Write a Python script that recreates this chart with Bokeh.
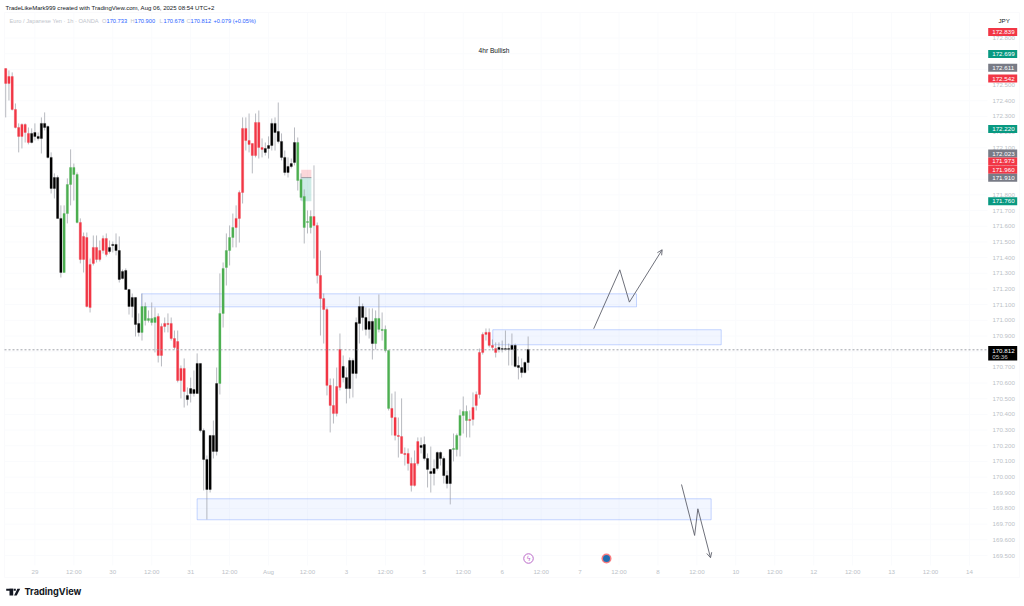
from bokeh.plotting import figure
from bokeh.embed import file_html
from bokeh.resources import INLINE
from bokeh.core.properties import value
from bokeh.models import (BoxAnnotation, Label, Arrow, OpenHead, FixedTicker, NumeralTickFormatter,
                          Range1d, PolyAnnotation, ColumnDataSource, LinearAxis)

# ---- candles (EUR/JPY, 1h): wick high / low, body top / bottom, session colour
highs = [172.606,172.594,172.581,172.383,172.256,172.256,172.256,172.230,172.224,172.256,
172.198,172.294,172.326,172.243,172.071,171.937,171.924,171.733,171.733,171.905,
172.090,172.000,171.943,171.650,171.560,171.560,171.394,171.541,171.541,171.509,
171.541,171.554,171.509,171.503,171.554,171.535,171.324,171.331,171.197,171.171,
171.146,171.044,171.171,171.114,171.063,171.114,171.082,171.044,170.980,171.018,
171.044,171.018,170.935,170.935,170.712,170.757,170.572,170.635,170.680,170.789,
170.725,170.310,170.138,170.266,170.361,170.699,171.299,171.369,171.554,171.605,
171.681,171.733,171.828,172.294,172.294,172.319,172.128,172.319,172.338,172.160,
172.134,172.173,172.287,172.294,172.389,172.192,172.083,172.039,172.032,172.230,
172.166,171.937,171.835,171.701,171.701,171.988,171.624,171.445,171.171,171.082,
170.629,170.629,170.699,170.916,170.776,170.699,170.763,170.757,171.018,171.152,
171.107,171.082,171.076,171.076,171.063,171.165,171.050,170.967,170.808,170.533,
170.546,170.380,170.502,170.189,170.183,170.125,170.170,170.253,170.253,170.259,
170.151,170.195,170.113,170.164,170.164,170.132,170.042,170.176,170.278,170.278,
170.431,170.514,170.457,170.425,170.540,170.546,170.820,170.923,170.948,170.948,
170.878,170.859,170.859,170.871,170.935,170.852,170.916,170.852,170.769,170.757,
170.738,170.897]
lows = [172.294,172.402,172.338,172.224,172.071,172.096,172.134,172.122,172.128,172.147,
172.147,172.064,172.211,172.032,171.809,171.777,171.650,171.273,171.305,171.618,
171.733,171.764,171.618,171.363,171.305,171.082,171.050,171.350,171.369,171.375,
171.426,171.407,171.426,171.433,171.414,171.241,171.261,171.197,171.037,171.018,
170.897,170.897,170.871,170.967,170.986,170.967,170.795,170.731,170.706,170.923,
170.923,170.871,170.814,170.604,170.502,170.444,170.457,170.476,170.514,170.533,
170.285,169.915,169.730,169.902,170.119,170.138,170.527,170.954,171.222,171.350,
171.465,171.465,171.496,171.745,172.083,172.071,171.937,172.039,172.032,172.039,
172.051,172.032,172.083,172.083,172.128,172.020,171.924,171.911,171.969,171.988,
171.828,171.764,171.490,171.554,171.554,171.394,171.235,170.903,170.852,170.521,
170.285,170.342,170.387,170.553,170.604,170.470,170.502,170.508,170.629,170.852,
170.935,170.903,170.884,170.750,170.814,170.923,170.871,170.795,170.425,170.266,
170.234,170.125,170.151,170.074,170.042,169.908,169.940,170.074,170.151,170.106,
169.934,169.902,169.947,170.042,170.074,169.959,169.928,169.826,170.100,170.132,
170.132,170.278,170.253,170.253,170.329,170.425,170.502,170.782,170.871,170.827,
170.808,170.763,170.795,170.795,170.808,170.712,170.712,170.699,170.623,170.635,
170.661,170.680]
body_top = [172.606,172.555,172.555,172.345,172.230,172.249,172.249,172.192,172.192,172.198,
172.173,172.256,172.256,172.236,172.039,171.911,171.911,171.650,171.681,171.866,
171.975,171.975,171.930,171.624,171.535,171.528,171.356,171.465,171.465,171.445,
171.522,171.522,171.465,171.484,171.484,171.445,171.312,171.318,171.197,171.146,
171.146,170.980,171.088,171.088,171.012,171.012,171.018,171.025,170.961,170.980,
170.980,170.980,170.884,170.865,170.693,170.693,170.521,170.565,170.559,170.725,
170.725,170.297,170.113,170.266,170.266,170.597,171.044,171.331,171.445,171.528,
171.592,171.650,171.815,172.224,172.224,172.147,172.128,172.262,172.262,172.102,
172.096,172.115,172.256,172.256,172.204,172.141,172.039,171.981,172.000,172.134,
172.134,171.898,171.790,171.630,171.662,171.662,171.605,171.286,171.139,171.069,
170.585,170.457,170.578,170.814,170.706,170.635,170.744,170.744,170.986,171.088,
171.088,171.018,170.993,170.993,171.012,171.012,170.942,170.942,170.808,170.438,
170.380,170.266,170.259,170.151,170.151,170.087,170.087,170.227,170.202,170.208,
170.119,170.036,170.055,170.157,170.157,170.119,170.010,170.176,170.183,170.266,
170.393,170.419,170.419,170.368,170.444,170.527,170.795,170.910,170.923,170.923,
170.840,170.820,170.827,170.820,170.820,170.820,170.840,170.840,170.712,170.699,
170.731,170.814]
body_bot = [172.511,172.511,172.345,172.230,172.173,172.173,172.198,172.134,172.134,172.173,
172.160,172.160,172.230,172.039,171.841,171.841,171.650,171.305,171.305,171.681,
171.866,171.930,171.624,171.388,171.388,171.088,171.082,171.363,171.388,171.388,
171.445,171.420,171.439,171.477,171.445,171.261,171.267,171.197,171.088,171.088,
170.974,170.923,170.923,170.999,170.999,170.986,170.986,170.776,170.776,170.961,
170.974,170.884,170.827,170.616,170.616,170.546,170.495,170.533,170.533,170.533,
170.297,170.113,169.921,169.921,170.164,170.164,170.597,171.044,171.337,171.445,
171.528,171.592,171.650,171.815,172.147,172.122,172.051,172.051,172.102,172.090,
172.071,172.096,172.115,172.198,172.141,172.039,171.943,171.943,171.981,172.007,
171.892,171.784,171.592,171.624,171.592,171.605,171.286,171.139,171.069,170.585,
170.457,170.406,170.406,170.572,170.635,170.565,170.565,170.661,170.661,170.980,
171.018,170.942,170.942,170.852,170.852,170.942,170.935,170.808,170.438,170.380,
170.266,170.259,170.151,170.144,170.087,169.947,169.947,170.087,170.189,170.119,
170.049,170.023,170.023,170.055,170.119,170.010,169.959,169.959,170.176,170.176,
170.266,170.393,170.361,170.361,170.368,170.457,170.527,170.795,170.910,170.840,
170.827,170.795,170.814,170.814,170.814,170.814,170.814,170.706,170.699,170.667,
170.667,170.731]
sessions = ("RRRRRRRRKKKKKKKKKKGGGGGRRRRRRRRRKKKKKKKKKKGGGGGRRRRRRRRRKKKKKKKKKKGGGGG"
            "RRRRRRRRRKKKKKKKKKKGGGGGRRRRRRRRRKKKKKKKKKKGGGGGRRRRRRRRRKKKKKKKKKKGGGGG"
            "RRRRRRRRRKKKKKKKKKK")

# ---- axes
time_ticks = [9,21,33,45,57,69,81,93,105,117,129,141,153,165,177,189,201,213,225,237,249,261,273,285,297]
time_labels = ["29","12:00","30","12:00","31","12:00","Aug","12:00","3","12:00","5","12:00","6","12:00",
               "7","12:00","8","12:00","10","12:00","12","12:00","13","12:00","14"]
price_ticks = [169.5,169.6,169.7,169.8,169.9,170.0,170.1,170.2,170.3,170.4,170.5,170.6,170.7,170.8,170.9,
               171.0,171.1,171.2,171.3,171.4,171.5,171.6,171.7,171.8,171.9,172.0,172.1,172.2,172.3,172.4,
               172.5,172.6,172.7,172.8]

# ---- drawings
zone_left = [41.85, 150.1, 59.0]
zone_right = [194.4, 220.5, 217.4]
zone_top = [171.169, 170.94, 169.862]
zone_bottom = [171.086, 170.844, 169.728]
up_x = [181.2, 189.25, 192.2, 202.3]
up_y = [170.946, 171.322, 171.116, 171.450]
down_x = [208.26, 212.3, 213.3, 217.2]
down_y = [169.953, 169.628, 169.798, 169.486]
tool_left, tool_right = 91.07, 94.2
tool_stop, tool_entry, tool_target = 171.960, 171.910, 171.760
last_price = 170.812
price_tags = [(172.839,"#f23645"),(172.699,"#089981"),(172.611,"#787b86"),(172.542,"#f23645"),(172.220,"#089981"),
              (172.023,"#787b86"),(171.973,"#f23645"),(171.960,"#f23645"),(171.910,"#787b86"),(171.760,"#089981")]
# crowded tags are pushed apart on the scale, as the platform does
tag_shift = {172.023: -6.4, 171.973: -6.3}

# ---- page geometry of the 1024x606 picture
W, H = 1024, 606
F_L, F_R, F_T, F_B = 4, 987, 12, 565
def bx(px): return (px - 5.2) / 3.245
def py(y): return 170.9 + (335.5 - y) / 156.8

p = figure(width=W, height=H, output_backend="svg", toolbar_location=None,
           x_range=Range1d(bx(0), bx(W)), y_range=Range1d(py(H), py(0)),
           x_axis_location=None, y_axis_location=None,
           min_border=0, min_border_left=0, min_border_right=0, min_border_top=0, min_border_bottom=0,
           background_fill_color="white", border_fill_color="white", outline_line_color=None)
p.grid.visible = False

FONT = "Liberation Sans"
xa = LinearAxis(fixed_location=py(F_B), ticker=FixedTicker(ticks=time_ticks))
ya = LinearAxis(fixed_location=bx(F_R), ticker=FixedTicker(ticks=price_ticks),
                formatter=NumeralTickFormatter(format="0.000"))
xa.major_label_overrides = {t: s for t, s in zip(time_ticks, time_labels)}
for a in (xa, ya):
    a.axis_line_color = None
    a.major_tick_line_color = None
    a.minor_tick_line_color = None
    a.major_tick_out = 0
    a.major_label_text_color = "#bcbfc7"
    a.major_label_text_font = FONT
    a.major_label_text_font_size = "6.2px"
xa.major_label_standoff = 2
ya.major_label_standoff = 5
p.add_layout(xa, "below")
p.add_layout(ya, "right")

# faint grid rules inside the pane
p.segment(x0=time_ticks, x1=time_ticks, y0=[py(F_B)]*len(time_ticks), y1=[py(F_T)]*len(time_ticks),
          line_color="#fafbfd", line_width=1)
p.segment(x0=[bx(F_L)]*len(price_ticks), x1=[bx(F_R)]*len(price_ticks), y0=price_ticks, y1=price_ticks,
          line_color="#fafbfd", line_width=1)

colmap = {"R": "#f23645", "K": "#000000", "G": "#4caf50"}
src = ColumnDataSource(dict(i=list(range(len(highs))), hi=highs, lo=lows, t=body_top, b=body_bot,
                            c=[colmap[s] for s in sessions]))

# position tool + zones under candles
p.quad(left=[tool_left], right=[tool_right], top=[tool_stop], bottom=[tool_entry],
       fill_color="#f23645", fill_alpha=0.2, line_color=None)
p.quad(left=[tool_left], right=[tool_right], top=[tool_entry], bottom=[tool_target],
       fill_color="#089981", fill_alpha=0.2, line_color=None)
p.segment(x0=[tool_left], x1=[tool_right], y0=[tool_entry], y1=[tool_entry], line_color="#787b86", line_width=0.7)
p.quad(left=zone_left, right=zone_right, top=zone_top, bottom=zone_bottom,
       fill_color="#2962ff", fill_alpha=0.06, line_color="#2962ff", line_alpha=0.25, line_width=1)

p.segment(x0="i", x1="i", y0="lo", y1="hi", source=src, line_color="#9598a1", line_alpha=0.75, line_width=0.9)
p.vbar(x="i", width=0.68, top="t", bottom="b", source=src, fill_color="c", line_color="c", line_width=0.3)

# hand drawn paths
LINE = "#5d606b"
for xs, ys in ((up_x, up_y), (down_x, down_y)):
    p.line(xs[:-1], ys[:-1], line_color=LINE, line_width=0.9)
    p.add_layout(Arrow(end=OpenHead(size=5, line_color=LINE, line_width=0.9), line_color=LINE, line_width=0.9,
                       x_start=xs[-2], y_start=ys[-2], x_end=xs[-1], y_end=ys[-1]))

p.segment(x0=[bx(F_L)], x1=[bx(F_R)], y0=[last_price], y1=[last_price],
          line_color="#9598a1", line_dash="2 2", line_width=0.9)

# events on the time scale
ev_y = py(558)
p.scatter([bx(528)], [ev_y], size=9.5, fill_color="white", line_color="#ba68c8", line_width=1)
p.text([bx(528)], [ev_y], text=["\u03df"], text_font=value("DejaVu Sans"), text_font_size="7px",
       text_color="#ba68c8", text_align="center", text_baseline="middle")
p.scatter([bx(606)], [ev_y], size=10, fill_color="#f77c80", line_color=None)
p.scatter([bx(606)], [ev_y], size=7, fill_color="#1f6fb2", line_color=None)

def lab(text, x, y, color="#131722", size="6.2px", align="left", style="normal", font=FONT):
    p.add_layout(Label(x=x, y=y, x_units="canvas", y_units="canvas", text=text, text_color=color,
                       text_font_size=size, text_align=align,
                       text_baseline="middle", text_font=font, text_font_style=style))

def box(l, r, t, b, color, line=None):
    p.add_layout(BoxAnnotation(left=l, right=r, top=t, bottom=b,
                               left_units="canvas", right_units="canvas", top_units="canvas", bottom_units="canvas",
                               fill_color=color, fill_alpha=1,
                               line_color=line, line_alpha=1 if line else 0, level="annotation"))

# outer pane border
p.add_layout(BoxAnnotation(left=4, right=1019, top=12, bottom=577,
                           left_units="canvas", right_units="canvas", top_units="canvas", bottom_units="canvas",
                           fill_alpha=0, line_color="#eef0f5", line_width=1, level="underlay"))

# price tags over the axis
for price, col in price_tags:
    y = 335.5 + (170.9 - price) * 156.8 + tag_shift.get(price, 0)
    box(987.7, 1016.7, y - 4, y + 4, col)
    lab(f"{price:.3f}", 991.7, y, color="white")
box(987.7, 1016.7, 345.5, 360, "#000000")
lab("170.812", 991.7, 350.2, color="white")
lab("05:36", 991.7, 356.2, color="#c8c8c8")

# header
lab("TradeLikeMark999 created with TradingView.com, Aug 06, 2025 08:54 UTC+2", 5, 7.5, size="6.05px")
lab("Euro / Japanese Yen \u00b7 1h \u00b7 OANDA", 9, 20.2, color="#c2c5cc", size="5.7px")
BLUE = "#2962ff"
for letter, xl, val, xv in (("O",101.5,"170.733",106), ("H",130,"170.900",134),
                            ("L",159,"170.678",163), ("C",186,"170.812",190)):
    lab(letter, xl, 20.2, color="#c2c5cc", size="5.7px")
    lab(val, xv, 20.2, color=BLUE, size="5.7px")
lab("+0.079 (+0.05%)", 213, 20.2, color=BLUE, size="5.7px")
lab("JPY", 998, 20.2)
lab("4hr Bullish", 493.5, 50, align="center", size="6.6px")

# TradingView mark and word
box(5.7, 12.7, 588.3, 590.3, "#131722")
box(9, 12.7, 588.3, 595, "#131722")
box(13.3, 15.3, 588.3, 590.3, "#131722")
p.add_layout(PolyAnnotation(xs=[16.9, 19.7, 16.2, 13.6], ys=[588.3, 588.3, 595, 595],
                            xs_units="canvas", ys_units="canvas",
                            fill_color="#131722", fill_alpha=1, line_color=None, level="annotation"))
lab("TradingView", 24, 591.3, size="9.2px", style="bold", font="Inter")

open("out.html", "w").write(file_html(p, INLINE))
